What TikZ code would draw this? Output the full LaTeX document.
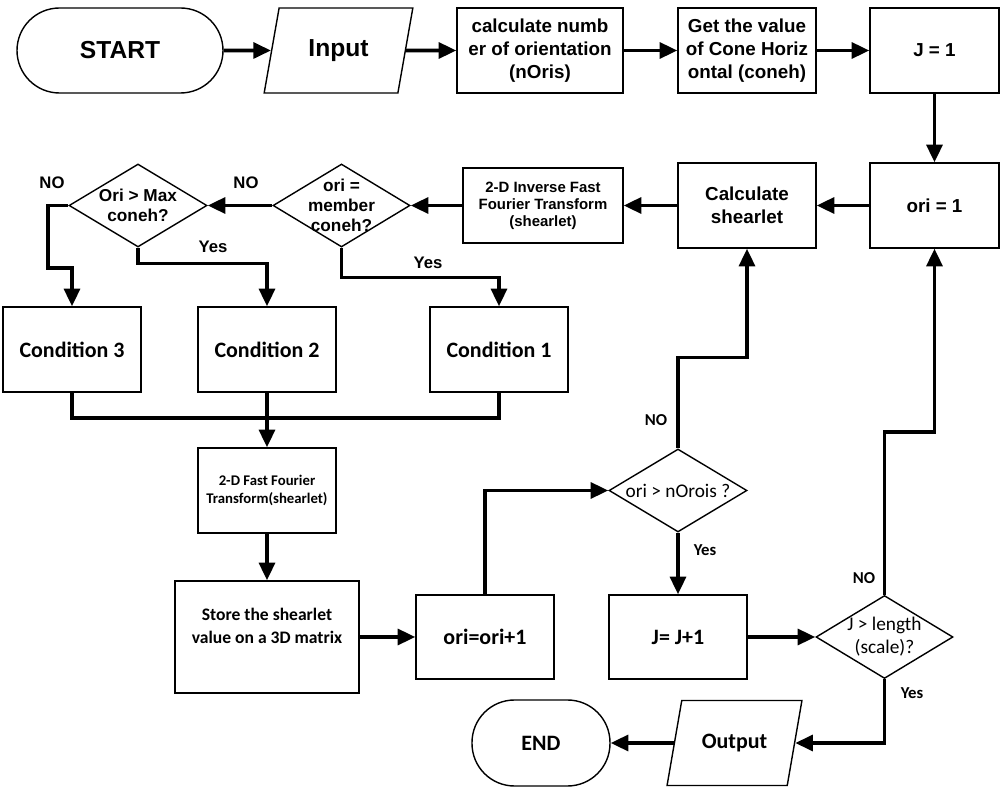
\documentclass[tikz,border=0pt]{standalone}
\usepackage{fontspec}
\setmainfont{Liberation Sans}
\newfontfamily\calibri{Carlito}
\usetikzlibrary{shapes.geometric,arrows.meta}

\begin{document}
\begin{tikzpicture}
[flowDecorate/.style={-{Triangle[length=10pt,width=9pt]},line width=2pt},%
  lineDecorate/.style={-,line width=2pt},
  boxDecorate/.style={shape=rectangle,draw,line width=0.8pt,align=center,
    minimum width=2.76cm,minimum height=1.70cm,inner sep=1pt},
  termDecorate/.style={boxDecorate,rounded corners=0.85cm},
  ioDecorate/.style={shape=trapezium,draw,line width=0.8pt,trapezium stretches=true,
    minimum width=2.98cm,minimum height=1.70cm,
    trapezium left angle=75,trapezium right angle=105},
  decideDecorate/.style={shape=diamond,draw,line width=0.8pt,
    minimum width=2.76cm,minimum height=1.66cm,inner sep=0pt},
  arialLarge/.style={font=\bfseries\fontsize{14pt}{16pt}\selectfont},
  arialMid/.style={font=\bfseries\fontsize{10.7pt}{13pt}\selectfont,align=center},
  arialDecide/.style={font=\bfseries\fontsize{9.8pt}{11.5pt}\selectfont,align=center},
  arialSmall/.style={font=\bfseries\fontsize{8.5pt}{9.6pt}\selectfont,align=center},
  calibriLarge/.style={font=\calibri\bfseries\fontsize{12.5pt}{15pt}\selectfont},
  calibriMid/.style={font=\calibri\bfseries\fontsize{10pt}{13pt}\selectfont,align=center},
  calibriSmall/.style={font=\calibri\bfseries\fontsize{8.4pt}{10.5pt}\selectfont,align=center},
  calibriPlain/.style={font=\calibri\fontsize{11pt}{13pt}\selectfont,align=center},
  tagArial/.style={font=\bfseries\fontsize{9.5pt}{11pt}\selectfont,inner sep=0pt},
  tagCalibri/.style={font=\calibri\bfseries\fontsize{9.5pt}{11pt}\selectfont,inner sep=0pt},
  scale=1]
\useasboundingbox (0,0) rectangle (20.02,-15.74);
%% top row
\node (start) at (2.40,-1.01) [termDecorate,minimum width=4.12cm,arialLarge] {START};
\node (input) at (6.77,-1.01) [ioDecorate,arialLarge] {Input};
\node (calc) at (10.80,-1.01) [boxDecorate,minimum width=3.32cm,arialMid] {calculate numb\\er of orientation\\(nOris)};
\node (coneh) at (14.94,-1.01) [boxDecorate,arialMid] {Get the value\\of Cone Horiz\\ontal (coneh)};
\node (j1) at (18.69,-1.01) [boxDecorate,minimum width=2.58cm,arialMid] {J = 1};
%% second row
\node (ori1) at (18.69,-4.11) [boxDecorate,minimum width=2.58cm,arialMid] {ori = 1};
\node (calcsh) at (14.94,-4.11) [boxDecorate,arialMid] {Calculate\\shearlet};
\node (ifft) at (10.86,-4.11) [boxDecorate,minimum width=3.20cm,minimum height=1.50cm,arialSmall] {2-D Inverse Fast\\Fourier Transform\\(shearlet)};
\node (member) at (6.83,-4.11) [decideDecorate,minimum width=2.74cm,
  label={[arialDecide]center:ori =\\member\\coneh?}] {};
\node (maxd) at (2.76,-4.11) [decideDecorate,
  label={[arialDecide]center:Ori > Max\\coneh?}] {};
%% conditions
\node (cond3) at (1.44,-6.99) [boxDecorate,calibriLarge] {Condition 3};
\node (cond2) at (5.34,-6.99) [boxDecorate,calibriLarge] {Condition 2};
\node (cond1) at (9.98,-6.99) [boxDecorate,calibriLarge] {Condition 1};
\coordinate (k1) at (0.96,-5.36);
\coordinate (mrg) at (5.34,-8.36);
%% lower part
\node (ffft) at (5.34,-9.81) [boxDecorate,calibriSmall] {2-D Fast Fourier\\Transform(shearlet)};
\node (store) at (5.34,-12.74) [boxDecorate,minimum width=3.68cm,minimum height=2.24cm,calibriMid] {Store the shearlet\\value on a 3D matrix\\\mbox{}};
\node (orip) at (9.70,-12.74) [boxDecorate,minimum height=1.68cm,calibriLarge] {ori=ori+1};
\node (nor) at (13.56,-9.81) [decideDecorate,
  label={[calibriPlain]center:ori > nOrois ?}] {};
\node (jinc) at (13.56,-12.74) [boxDecorate,minimum height=1.68cm,calibriLarge] {J= J+1};
\node (jlen) at (17.69,-12.74) [decideDecorate,minimum width=2.74cm,
  label={[calibriPlain]center:J > length\\(scale)?}] {};
\node (output) at (14.69,-14.86) [ioDecorate,minimum width=2.70cm,
  trapezium left angle=70,trapezium right angle=110,calibriLarge] {Output};
\node (endn) at (10.82,-14.86) [termDecorate,minimum height=1.72cm,calibriLarge] {END};
%% yes / no tags
\node (no1) at (1.04,-3.66) [tagArial] {NO};
\node (no2) at (4.92,-3.66) [tagArial] {NO};
\node (yes1) at (4.26,-4.94) [tagArial] {Yes};
\node (yes2) at (8.56,-5.26) [tagArial] {Yes};
\node (no3) at (13.12,-8.40) [tagCalibri] {NO};
\node (yes3) at (14.10,-11.00) [tagCalibri] {Yes};
\node (no4) at (17.28,-11.56) [tagCalibri] {NO};
\node (yes4) at (18.24,-13.86) [tagCalibri] {Yes};
%% straight connectors
\path
\foreach \startnode/\endnode in {
  start/input, input/calc, calc/coneh, coneh/j1, j1/ori1, ori1/calcsh,
  calcsh/ifft, ifft/member, member/maxd, cond2/ffft, ffft/store,
  store/orip, nor/jinc, jinc/jlen, output/endn}
{
  (\startnode) edge[flowDecorate] (\endnode)
};
%% bent connectors
\draw[flowDecorate] (maxd.west) -| (k1) -| (cond3.north);
\draw[flowDecorate] (maxd.south) -- ++(0,-0.32) -| (cond2.north);
\draw[flowDecorate] (member.south) -- ++(0,-0.60) -| (cond1.north);
\draw[lineDecorate] (cond3.south) |- (mrg) -| (cond1.south);
\draw[flowDecorate] (orip.north) |- (nor.west);
\draw[flowDecorate] (nor.north) -- ++(0,1.82) -| (calcsh.south);
\draw[flowDecorate] (jlen.north) -- ++(0,3.26) -| (ori1.south);
\draw[flowDecorate] (jlen.south) |- (output.east);
\end{tikzpicture}
\end{document}
